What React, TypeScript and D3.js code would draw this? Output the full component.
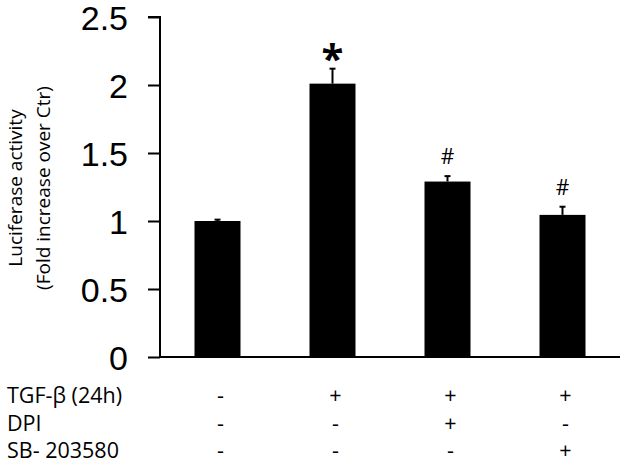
import * as d3 from 'd3';
import React, { useRef, useEffect } from 'react';

// bar values
const groups = ['g1', 'g2', 'g3', 'g4'];
const means = [1.0, 2.01, 1.29, 1.045];
const errors = [0.01, 0.11, 0.04, 0.06];
const marks = ['', '*', '#', '#'];
const yTicks = [0, 0.5, 1, 1.5, 2, 2.5];

// treatment table under the axis
const rowLabels = ['TGF-β (24h)', 'DPI', 'SB- 203580'];
const tgf = ['-', '+', '+', '+'];
const dpi = ['-', '-', '+', '-'];
const sb = ['-', '-', '-', '+'];

function App() {
  const ref = useRef<SVGSVGElement>(null);

  useEffect(() => {
    const width = 625;
    const height = 465;
    const margin = { top: 17, right: 5, bottom: 108, left: 160 };

    const svg = d3.select(ref.current);
    svg.selectAll('*').remove();

    const x = d3.scaleBand()
      .domain(groups)
      .range([margin.left, width - margin.right])
      .padding(0);
    const y = d3.scaleLinear()
      .domain([0, 2.5])
      .range([height - margin.bottom, margin.top]);

    const barW = x.bandwidth() * 0.4;
    const cx = (d: string) => (x(d) as number) + x.bandwidth() / 2;

    // bars
    svg.append('g')
      .selectAll('rect')
      .data(groups)
      .enter()
      .append('rect')
      .attr('x', d => cx(d) - barW / 2)
      .attr('y', (d, i) => y(means[i]))
      .attr('width', barW)
      .attr('height', (d, i) => y(0) - y(means[i]))
      .attr('fill', '#000');

    // upper error whiskers
    const err = svg.append('g').attr('stroke', '#000').attr('stroke-width', 2);
    groups.forEach((g, i) => {
      err.append('line')
        .attr('x1', cx(g)).attr('x2', cx(g))
        .attr('y1', y(means[i])).attr('y2', y(means[i] + errors[i]));
      err.append('line')
        .attr('x1', cx(g) - 3).attr('x2', cx(g) + 3)
        .attr('y1', y(means[i] + errors[i])).attr('y2', y(means[i] + errors[i]));
    });

    // significance marks
    svg.append('g')
      .selectAll('text')
      .data(groups)
      .enter()
      .append('text')
      .attr('x', d => cx(d))
      .attr('y', (d, i) => marks[i] === '*' ? y(means[i] + errors[i]) + 4 : y(means[i] + errors[i]) - 12)
      .attr('text-anchor', 'middle')
      .style('font-family', '"Open Sans", sans-serif')
      .style('font-size', (d, i) => marks[i] === '*' ? '40px' : '21px')
      .style('font-weight', (d, i) => marks[i] === '*' ? 'bold' : 'normal')
      .text((d, i) => marks[i]);

    // y axis
    const yAxis = svg.append('g')
      .attr('transform', `translate(${margin.left},0)`)
      .call(d3.axisLeft(y).tickValues(yTicks).tickSize(12).tickPadding(20).tickFormat(d => String(d)));
    yAxis.select('.domain').attr('stroke', '#000').attr('stroke-width', 2).attr('d', `M-12,${y(2.5)}H0V${y(0)}`);
    yAxis.selectAll('.tick line').attr('stroke', '#000').attr('stroke-width', 2);
    yAxis.selectAll('.tick text')
      .style('font-family', '"Liberation Sans", Arial, sans-serif')
      .style('font-size', '34px')
      .attr('dy', '0.36em')
      .attr('fill', '#000');

    // x axis line
    svg.append('line')
      .attr('x1', margin.left).attr('x2', width - margin.right)
      .attr('y1', y(0)).attr('y2', y(0))
      .attr('stroke', '#000').attr('stroke-width', 2);

    // y label
    const ylab = svg.append('text')
      .attr('transform', `translate(0,188) rotate(-90)`)
      .attr('text-anchor', 'middle')
      .style('font-family', '"Open Sans", sans-serif')
      .style('font-size', '19px');
    ylab.append('tspan').attr('x', 0).attr('y', 22).text('Luciferase activity');
    ylab.append('tspan').attr('x', 0).attr('y', 50).text('(Fold increase over Ctr)');

    // treatment table
    const rows = [tgf, dpi, sb];
    const rowY = [403, 431, 458];
    rows.forEach((row, r) => {
      svg.append('text')
        .attr('x', 7).attr('y', rowY[r])
        .style('font-family', '"Open Sans", sans-serif')
        .style('font-size', '21.5px')
        .text(rowLabels[r]);
      svg.append('g')
        .selectAll('text')
        .data(groups)
        .enter()
        .append('text')
        .attr('x', d => cx(d) + 3)
        .attr('y', rowY[r])
        .attr('text-anchor', 'middle')
        .style('font-family', '"Open Sans", sans-serif')
        .style('font-size', '21.5px')
        .text((d, i) => row[i]);
    });
  }, []);

  return (
    <svg ref={ref} width={625} height={465}
      style={{ position: 'absolute', left: 0, top: 0, background: '#fff' }}></svg>
  );
}

export default App;
